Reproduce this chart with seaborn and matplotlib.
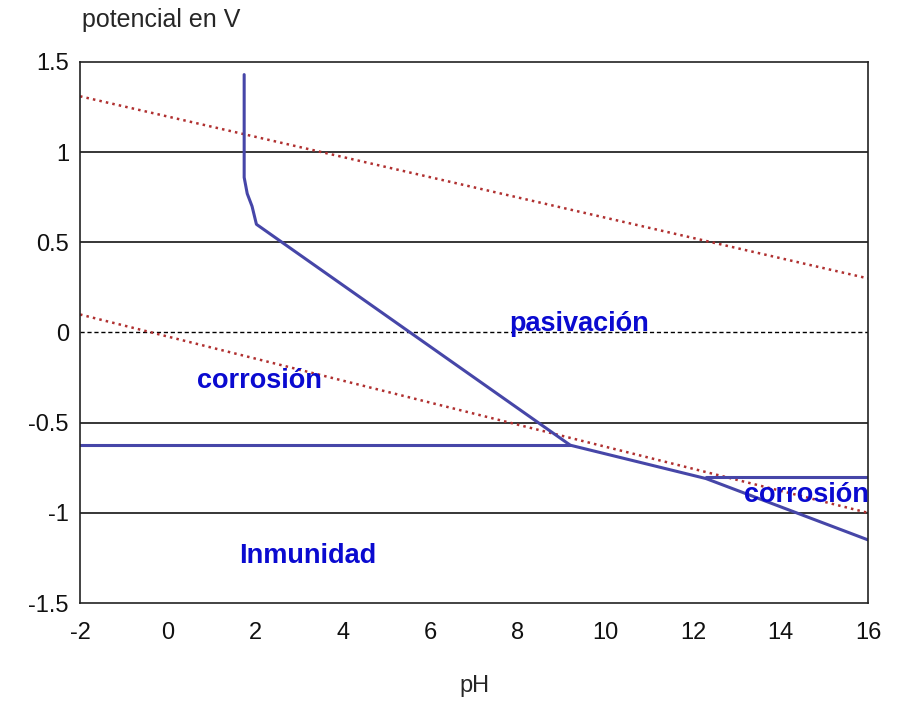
import numpy as np
import pandas as pd
import seaborn as sns
import matplotlib
matplotlib.use('Agg')
import matplotlib.pyplot as plt

# lineas de equilibrio del agua (rojo punteado)
ph_o2 = [-2, 16]
e_o2 = [1.31, 0.30]
ph_h2 = [-2, 16]
e_h2 = [0.10, -1.00]

# frontera corrosion / pasivacion
ph_pas = [1.75, 1.75, 1.82, 1.93, 2.03, 9.2, 12.3, 16]
e_pas = [1.43, 0.86, 0.77, 0.70, 0.60, -0.625, -0.81, -1.15]

# frontera inmunidad
ph_inm = [-2, 9.2]
e_inm = [-0.625, -0.625]

# frontera corrosion alcalina
ph_alc = [12.3, 16]
e_alc = [-0.80, -0.80]

x_ticks = [-2, 0, 2, 4, 6, 8, 10, 12, 14, 16]
y_ticks = [-1.5, -1, -0.5, 0, 0.5, 1, 1.5]
y_labels = ['-1.5', '-1', '-0.5', '0', '0.5', '1', '1.5']
grid_solid = [-1, -0.5, 0.5, 1]

region_names = ['pasivación', 'corrosión', 'Inmunidad', 'corrosión']
region_ph = [9.4, 2.1, 3.2, 14.6]
region_e = [0.01, -0.31, -1.28, -0.94]

sns.set_style('white')
plt.rcParams['font.family'] = ['Liberation Sans', 'DejaVu Sans']

fig = plt.figure(figsize=(9.05, 7.08), dpi=100)
ax = fig.add_axes([80/905, 105/708, 788/905, 541/708])

for y in grid_solid:
    ax.axhline(y, color='black', lw=1.1, zorder=1)
ax.axhline(0, color='black', lw=1.0, ls=(0, (3, 2)), zorder=1)

red = '#b03030'
blue = '#4646a8'
kw = dict(ax=ax, sort=False, estimator=None)
sns.lineplot(x=ph_o2, y=e_o2, color=red, lw=1.8, ls=':', **kw)
sns.lineplot(x=ph_h2, y=e_h2, color=red, lw=1.8, ls=':', **kw)
sns.lineplot(x=ph_pas, y=e_pas, color=blue, lw=2.2, **kw)
sns.lineplot(x=ph_inm, y=e_inm, color=blue, lw=2.2, **kw)
sns.lineplot(x=ph_alc, y=e_alc, color=blue, lw=2.2, **kw)

for name, xp, yp in zip(region_names, region_ph, region_e):
    ax.text(xp, yp, name, color='#0a0ad0', fontsize=19.5, fontweight='bold',
            ha='center', va='baseline')

ax.set_xlim(-2, 16)
ax.set_ylim(-1.5, 1.5)
ax.set_xticks(x_ticks)
ax.set_xticklabels([str(t) for t in x_ticks])
ax.set_yticks(y_ticks)
ax.set_yticklabels(y_labels)
ax.tick_params(length=0, labelsize=17, colors='#111111')
ax.tick_params(axis='x', pad=14)
ax.tick_params(axis='y', pad=8)
for s in ax.spines.values():
    s.set_color('#222222')
    s.set_linewidth(1.2)

ax.set_xlabel('pH', fontsize=17, labelpad=22)
ax.set_ylabel('')
fig.text(82/905, 1 - 20/708, 'potencial en V', fontsize=18, va='center', ha='left')

fig.savefig('out.png', dpi=100)
